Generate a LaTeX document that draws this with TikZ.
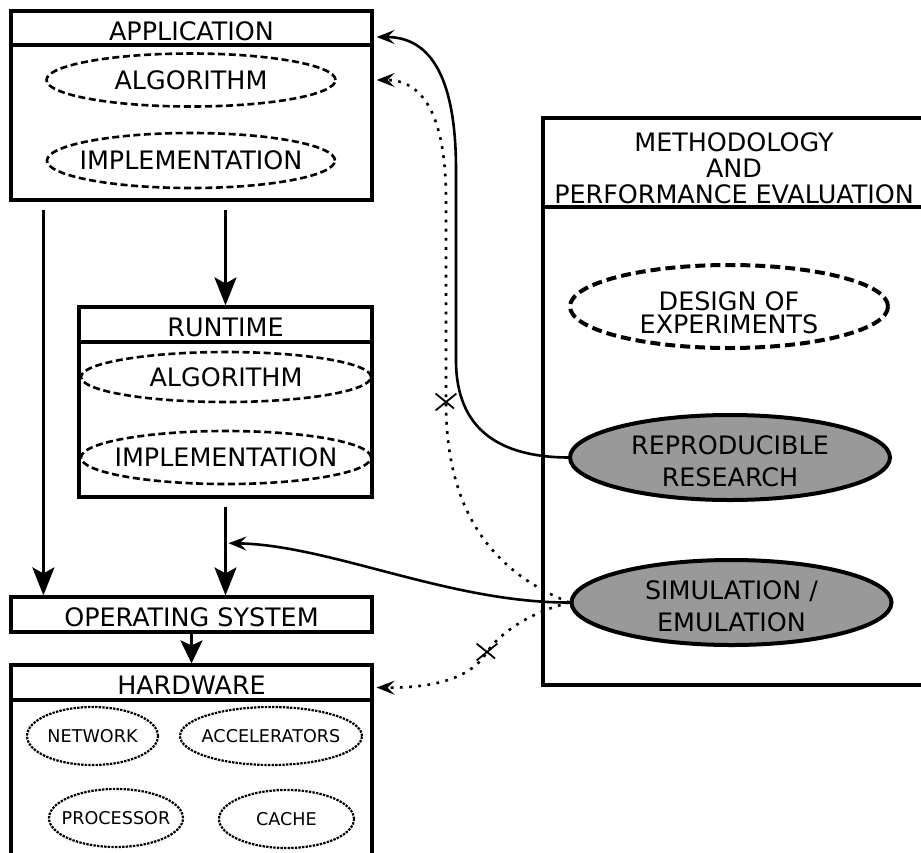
\documentclass[tikz,border=0pt]{standalone}
\usepackage{fontspec}
\setmainfont{DejaVu Sans}
\usetikzlibrary{shapes.geometric, shapes.misc, arrows.meta, calc}
\definecolor{simgray}{RGB}{153,153,153}

\begin{document}
\begin{tikzpicture}[x=0.5pt, y=-0.5pt,
    every node/.style={font=\fontsize{12.7}{13}\selectfont},
    box/.style={draw, line width=1.6pt, inner sep=0pt, text height=12.3pt, text depth=0pt},
    head/.style={box, anchor=north},
    oval/.style={ellipse, draw, line width=1.3pt, dash pattern=on 3.5pt off 1.8pt, inner xsep=-30pt, inner ysep=0pt},
    hwoval/.style={oval, line width=1.1pt, dash pattern=on 1.2pt off 0.6pt, minimum height=29pt, font=\fontsize{8.8}{10}\selectfont},
    filled/.style={ellipse, draw, fill=simgray, line width=2pt, inner xsep=-30pt, inner ysep=0pt, minimum width=160pt, minimum height=42.5pt, align=center, text height=29.3pt, text depth=0pt, font=\fontsize{12.7}{16}\selectfont},
    xmark/.style={cross out, draw, solid, line width=0.9pt, minimum width=9.5pt, minimum height=7.5pt, inner sep=0pt},
    bigarrow/.style={-{Stealth[length=14pt, width=11pt, inset=3pt]}, line width=1.4pt},
    link/.style={-{Stealth[length=9pt, width=7pt, inset=3.5pt]}, line width=1.3pt, shorten >=1.5pt},
    dots/.style={link, dash pattern=on 1.4pt off 3.2pt}]
    \useasboundingbox (0,0) rectangle (921,852);
    \clip (0,0) rectangle (921,852);

    % application
    \node[box, minimum width=180.5pt, minimum height=94.5pt] (app) at (191.5,105.5) {};
    \node[head, minimum width=180.5pt, minimum height=17pt] (apphead) at (app.north) {APPLICATION};
    \node[oval, minimum width=144.5pt, minimum height=26.5pt] (appalgo) at (191,80) {ALGORITHM};
    \node[oval, minimum width=144pt, minimum height=27.5pt] (appimpl) at (191,160.5) {IMPLEMENTATION};

    % runtime
    \node[box, minimum width=146.5pt, minimum height=95pt] (run) at (225.5,402) {};
    \node[head, minimum width=146.5pt, minimum height=17.5pt] (runhead) at (run.north) {RUNTIME};
    \node[oval, minimum width=145pt, minimum height=25pt] (runalgo) at (226,377) {ALGORITHM};
    \node[oval, minimum width=145pt, minimum height=26.5pt] (runimpl) at (226,457.5) {IMPLEMENTATION};

    % os and hardware
    \node[box, minimum width=180.5pt, minimum height=17.5pt] (os) at (191.5,614.5) {OPERATING SYSTEM};
    \node[box, minimum width=180.5pt, minimum height=107.5pt] (hw) at (191.5,772.5) {};
    \node[head, minimum width=180.5pt, minimum height=17.5pt] (hwhead) at (hw.north) {HARDWARE};
    \node[hwoval, minimum width=65.5pt] (net) at (92.5,736) {NETWORK};
    \node[hwoval, minimum width=91pt] (acc) at (271,736) {ACCELERATORS};
    \node[hwoval, minimum width=67pt] (proc) at (116,818) {PROCESSOR};
    \node[hwoval, minimum width=67.5pt] (cache) at (286.5,819) {CACHE};

    % methodology
    \node[box, minimum width=191pt, minimum height=283.5pt] (meth) at (734,401.5) {};
    \node[draw, line width=1.6pt, anchor=north, inner sep=0pt, minimum width=191pt, minimum height=44.5pt, align=center, text height=40.6pt, text depth=0pt] (methhead) at (meth.north) {METHODOLOGY\\AND\\PERFORMANCE EVALUATION};
    \node[oval, line width=2pt, dash pattern=on 5pt off 2.5pt, minimum width=159pt, minimum height=41.5pt, align=center, text height=27.1pt, text depth=0pt, font=\fontsize{12.7}{11.7}\selectfont] (doe) at (729,306.5) {DESIGN OF\\EXPERIMENTS};
    \node[filled] (repr) at (730,457.5) {REPRODUCIBLE\\RESEARCH};
    \node[filled] (sim) at (731.5,602.5) {SIMULATION /\\EMULATION};

    % stack arrows
    \coordinate (appout) at ([xshift=17pt]app.south west);
    \draw[bigarrow, shorten <=4pt] (appout) -- (appout |- os.north);
    \draw[bigarrow, shorten <=4pt] (app.south -| run.north) -- (run.north);
    \draw[bigarrow, shorten <=4pt] (run.south) -- (run.south |- os.north);
    \draw[bigarrow, -{Stealth[length=11.5pt, width=11pt, inset=2.5pt]}] (os.south) -- (hw.north);
    \coordinate (rtos) at ($(run.south)!0.46!(run.south |- os.north)$);

    % links from the methodology
    \draw[link] (repr.west) .. controls (500,457) and (456,430) .. (456,360)
        -- (456,170) .. controls (456,60) and (420,37) .. ([yshift=-4.5pt]apphead.east);
    \draw[link] (sim.west) .. controls (450,603) and (330,545) .. (rtos);
    \draw[dots] (sim.west) .. controls (475,565) and (446,490) .. (446,402) node[xmark] (cut1) {}
        -- (446,200) .. controls (446,110) and (420,80) .. (app.east |- appalgo.center);
    \draw[dots] (sim.west) .. controls (520,615) and (495,640) .. (487,652) node[xmark] (cut2) {}
        .. controls (470,680) and (430,688) .. ([yshift=-2.5pt]hwhead.east);
\end{tikzpicture}
\end{document}
